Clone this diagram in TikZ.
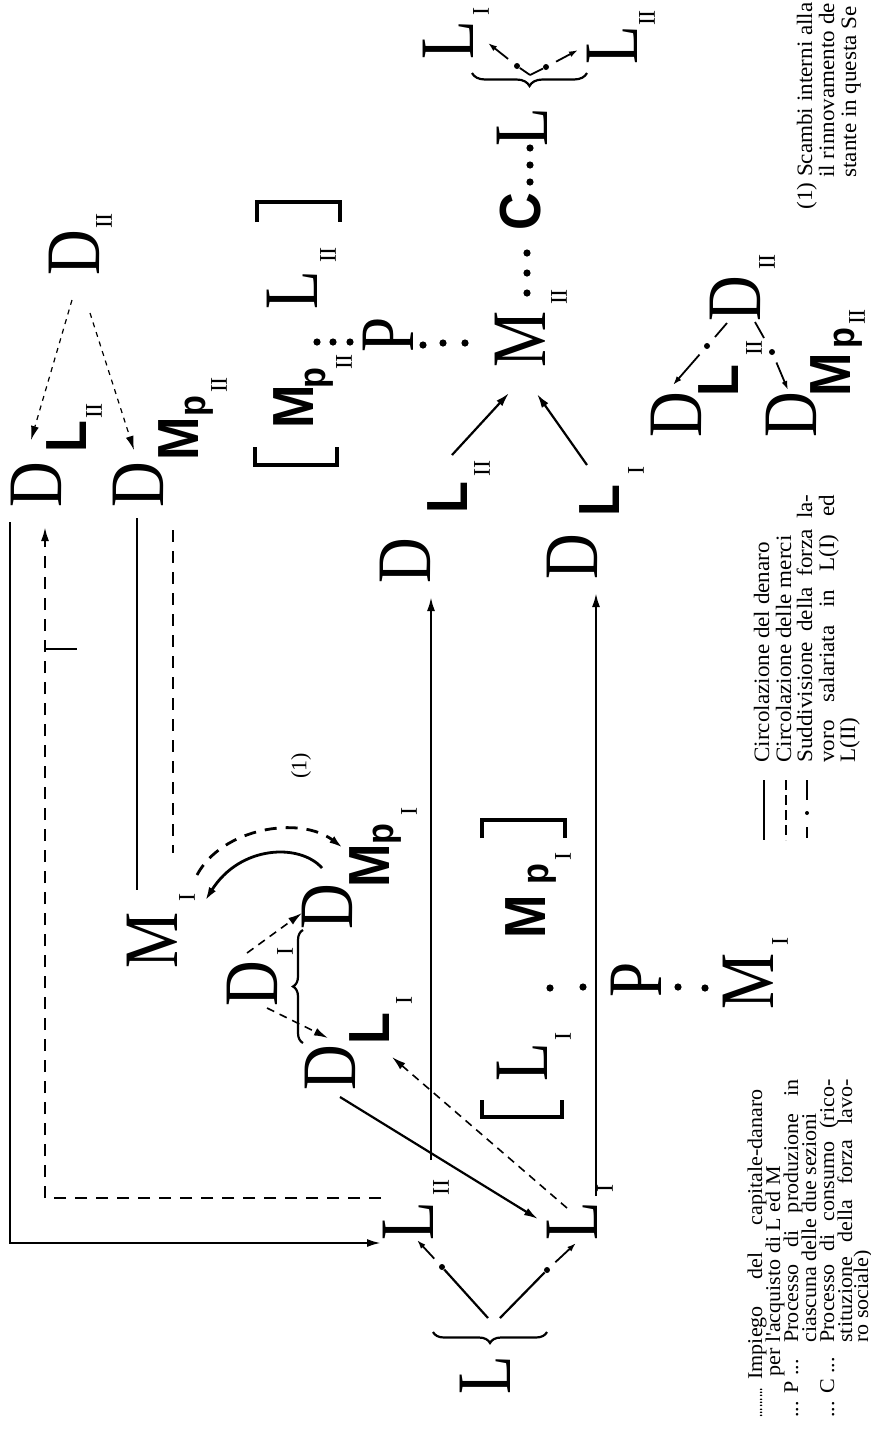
\documentclass[tikz,border=0pt]{standalone}
\usepackage{fontspec}
\setmainfont{Liberation Serif}
\newfontfamily\bigserif{Liberation Serif}[FakeStretch=0.82]
\newfontfamily\bigsans{Liberation Sans}[FakeStretch=0.9]
\newfontfamily\subserif{Liberation Serif}
\newfontfamily\legfont{Liberation Serif}[FakeStretch=1.05]
\usetikzlibrary{arrows.meta,decorations.pathreplacing}
\tikzset{
 big/.style={inner sep=0pt, rotate=90, font=\bigserif\fontsize{38.5}{40}\selectfont},
 bsf/.style={inner sep=0pt, rotate=90, font=\bigsans\bfseries\fontsize{29}{30}\selectfont},
 psub/.style={inner sep=0pt, rotate=90, font=\bigsans\bfseries\fontsize{19}{20}\selectfont},
 rsub/.style={inner sep=0pt, rotate=90, font=\subserif\fontsize{12}{13}\selectfont},
 paren/.style={inner sep=0pt, rotate=90, font=\subserif\fontsize{11}{12}\selectfont},
 legA/.style={inner sep=0pt, rotate=90, anchor=base west, font=\legfont\fontsize{10.5}{11}\selectfont},
 legB/.style={inner sep=0pt, rotate=90, anchor=base west, font=\legfont\fontsize{11}{12}\selectfont},
 tip/.style={-{Latex[length=7pt,width=4pt]}},
 smalltip/.style={-{Latex[length=4.5pt,width=3pt]}},
 money/.style={line width=1.1pt},
 goods/.style={line width=1.1pt, dash pattern=on 6pt off 4.5pt},
 thingoods/.style={line width=0.8pt, dash pattern=on 4pt off 3pt},
 fine/.style={line width=0.6pt, dash pattern=on 2.5pt off 2.5pt},
 bar/.style={line width=1.6pt},
 dotn/.style={circle, fill, inner sep=0pt, minimum size=3.6pt},
 sdot/.style={circle, fill, inner sep=0pt, minimum size=3pt},
 bracestyle/.style={decorate, line width=1.1pt},
}
\begin{document}
\begin{tikzpicture}[x=0.5pt,y=-0.5pt]
\useasboundingbox (0,0) rectangle (871,1436);
\begin{scope}
\clip (0,0) rectangle (871,1436);
% ---------------- nodes: left / top part
\node[big] (DIIa) at (74,253) {D};
\node[rsub] (DIIaS) at (104,221) {II};
\node[big] (DLa) at (36,485) {D};
\node[bsf] (DLaL) at (67,437) {L};
\node[rsub] (DLaS) at (94,411) {II};
\node[big] (DMa) at (138,485) {D};
\node[bsf] (DMaM) at (179,439) {M};
\node[psub] (DMap) at (199,406) {p};
\node[rsub] (DMaS) at (219,385) {II};
\node[big] (MIa) at (152,940) {M};
\node[rsub] (MIaS) at (187,897) {I};
\node[paren] (fn1) at (301,766) {(1)};
\node[big] (DI) at (252,984) {D};
\node[rsub] (DIS) at (285,951) {I};
\node[big] (DMb) at (327,907) {D};
\node[bsf] (DMbM) at (370,866) {M};
\node[psub] (DMbp) at (387,834) {p};
\node[rsub] (DMbS) at (409,811) {I};
\node[big] (DLb) at (330,1068) {D};
\node[bsf] (DLbL) at (370,1029) {L};
\node[rsub] (DLbS) at (404,1000) {I};
\node[big] (LIIa) at (408,1221) {L};
\node[rsub] (LIIaS) at (441,1187) {II};
\node[big] (LIa) at (572,1221) {L};
\node[rsub] (LIaS) at (605,1188) {I};
\node[big] (La) at (485,1375) {L};
% bracket row (section I)
\node[big] (LIb) at (522,1062) {L};
\node[rsub] (LIbS) at (563,1036) {I};
\node[bsf] (MpIbM) at (526,917) {M};
\node[psub] (MpIbp) at (542,874) {p};
\node[rsub] (MpIbS) at (563,856) {I};
\node[big] (Pa) at (636,980) {P};
\node[big] (MIb) at (748,981) {M};
\node[rsub] (MIbS) at (780,941) {I};
% middle D_L
\node[big] (DLc) at (405,561) {D};
\node[bsf] (DLcL) at (448,498) {L};
\node[rsub] (DLcS) at (482,468) {II};
\node[big] (DLd) at (572,557) {D};
\node[bsf] (DLdL) at (600,501) {L};
\node[rsub] (DLdS) at (636,470) {I};
% bracket row (section II)
\node[bsf] (MpIIM) at (294,407) {M};
\node[psub] (MpIIp) at (319,378) {p};
\node[rsub] (MpIIS) at (344,362) {II};
\node[big] (LIIb) at (292,290) {L};
\node[rsub] (LIIbS) at (328,255) {II};
\node[big] (Pb) at (388,335) {P};
\node[big] (MII) at (520,339) {M};
\node[rsub] (MIIS) at (559,297) {II};
\node[bsf] (C) at (521,212) {C};
\node[big] (Lb) at (522,127) {L};
\node[big] (LIc) at (448,40) {L};
\node[rsub] (LIcS) at (481,12) {I};
\node[big] (LIIc) at (612,45) {L};
\node[rsub] (LIIcS) at (647,18) {II};
% bottom right cluster
\node[big] (DIIb) at (735,299) {D};
\node[rsub] (DIIbS) at (767,262) {II};
\node[big] (DLe) at (676,415) {D};
\node[bsf] (DLeL) at (719,381) {L};
\node[rsub] (DLeS) at (754,348) {II};
\node[big] (DMc) at (791,415) {D};
\node[bsf] (DMcM) at (831,375) {M};
\node[psub] (DMcp) at (848,338) {p};
\node[rsub] (DMcS) at (857,317) {II};
% ---------------- dots
\node[dotn] (d1) at (550,988) {};
\node[dotn] (d2) at (583,987) {};
\node[dotn] (d3) at (678,987) {};
\node[dotn] (d4) at (705,988) {};
\node[dotn] (d5) at (317,342) {};
\node[dotn] (d6) at (333,342) {};
\node[dotn] (d7) at (350,342) {};
\node[dotn] (d8) at (423,345) {};
\node[dotn] (d9) at (443,343) {};
\node[dotn] (d10) at (465,343) {};
\node[dotn] (d11) at (527,293) {};
\node[dotn] (d12) at (527,273) {};
\node[dotn] (d13) at (527,253) {};
\node[dotn] (d14) at (530,182) {};
\node[dotn] (d15) at (530,165) {};
\node[dotn] (d16) at (530,148) {};
% ---------------- brackets
\draw[bar] (482,1100) -- (482,1117) -- (562,1117) -- (562,1100);
\draw[bar] (482,838) -- (482,820) -- (565,820) -- (565,838);
\draw[bar] (255,447) -- (255,465) -- (337,465) -- (337,447);
\draw[bar] (257,222) -- (257,202) -- (340,202) -- (340,222);
% ---------------- braces
\draw[bracestyle, decoration={brace, amplitude=5.5pt}] (547,1332) -- (433,1332);
\draw[bracestyle, decoration={brace, amplitude=6.5pt}] (587,73) -- (472,73);
\draw[bracestyle, decoration={brace, amplitude=5pt}] (303,1043) -- (303,930);
% ---------------- connectors
\coordinate (a1s) at (72,300);  \coordinate (a1e) at (31,440);
\coordinate (a2s) at (90,313);  \coordinate (a2e) at (134,450);
\draw[fine, tip] (a1s) -- (a1e);
\draw[fine, tip] (a2s) -- (a2e);
% money D_L_II -> L_II (outer frame)
\coordinate (a3s) at (10,522); \coordinate (a3e) at (381,1243);
\draw[money, tip] (a3s) |- (a3e);
% goods L_II -> D_L_II (dashed frame)
\coordinate (a4s) at (381,1198); \coordinate (a4e) at (45,527);
\draw[goods, tip] (a4s) -| (a4e);
\coordinate (t1) at (45,649); \coordinate (t2) at (77,649);
\draw[line width=0.8pt] (t1) -- (t2);
% D_Mp_II -- M_I
\coordinate (a6s) at (137,518); \coordinate (a6e) at (137,890);
\draw[money] (a6s) -- (a6e);
\coordinate (a7s) at (173,530); \coordinate (a7e) at (173,853);
\draw[goods] (a7s) -- (a7e);
% internal exchange arcs
\coordinate (a8s) at (322,868); \coordinate (a8e) at (205,901);
\draw[money, line width=1.4pt, tip] (a8s) .. controls (300,843) and (240,845) .. (a8e);
\coordinate (a9s) at (197,875); \coordinate (a9e) at (343,848);
\draw[goods, line width=1.4pt, tip] (a9s) .. controls (222,828) and (300,815) .. (a9e);
% D_I split
\coordinate (a10s) at (247,953); \coordinate (a10e) at (302,913);
\draw[thingoods, tip] (a10s) -- (a10e);
\coordinate (a11s) at (267,1008); \coordinate (a11e) at (328,1038);
\draw[thingoods, tip] (a11s) -- (a11e);
% D_L_I -> L_I (money) and L_I -> D_L_I (goods)
\coordinate (a12s) at (340,1097); \coordinate (a12e) at (538,1219);
\draw[money, tip] (a12s) -- (a12e);
\coordinate (a13s) at (567,1208); \coordinate (a13e) at (392,1057);
\draw[thingoods, tip] (a13s) -- (a13e);
% verticals to D
\coordinate (a14s) at (431,1160); \coordinate (a14e) at (431,597);
\draw[money, tip] (a14s) -- (a14e);
\coordinate (a15s) at (596,1196); \coordinate (a15e) at (596,593);
\draw[money, tip] (a15s) -- (a15e);
% to M_II
\coordinate (a16s) at (452,455); \coordinate (a16e) at (509,393);
\draw[money, tip] (a16s) -- (a16e);
\coordinate (a17s) at (587,465); \coordinate (a17e) at (537,394);
\draw[money, tip] (a17s) -- (a17e);
% bottom L { L_II, L_I
\node[sdot] (b1) at (442,1267) {};
\node[sdot] (b2) at (547,1270) {};
\coordinate (b0a) at (488,1318); \coordinate (b0b) at (500,1318);
\draw[line width=1.1pt] (b0a) -- (b1);
\draw[line width=1.1pt] (b0b) -- (b2);
\coordinate (b1e) at (417,1240); \coordinate (b2e) at (576,1243);
\draw[line width=0.9pt, smalltip, shorten <=4pt] (b1) -- (b1e);
\draw[line width=0.9pt, smalltip, shorten <=4pt] (b2) -- (b2e);
% top L { L_I, L_II
\node[sdot] (c1) at (517,66) {};
\node[sdot] (c2) at (546,67) {};
\coordinate (c0) at (530,75);
\draw[line width=0.9pt] (c0) -- (c1);
\draw[line width=0.9pt] (c0) -- (c2);
\coordinate (c1e) at (488,43); \coordinate (c2e) at (578,50);
\draw[line width=0.9pt, smalltip, shorten <=4pt] (c1) -- (c1e);
\draw[line width=0.9pt, smalltip, shorten <=4pt] (c2) -- (c2e);
% bottom-right D_II split
\coordinate (e1s) at (727,323); \coordinate (e1m) at (715,337);
\node[sdot] (e1) at (707,346) {};
\coordinate (e1e) at (673,385);
\draw[line width=0.9pt] (e1s) -- (e1m);
\draw[line width=0.9pt, smalltip, shorten <=4pt] (e1) -- (e1e);
\coordinate (e2s) at (755,322); \coordinate (e2m) at (764,338);
\node[sdot] (e2) at (772,352) {};
\coordinate (e2e) at (788,390);
\draw[line width=0.9pt] (e2s) -- (e2m);
\draw[line width=0.9pt, smalltip, shorten <=4pt] (e2) -- (e2e);
% ---------------- legend 2 (symbols)
\coordinate (s1a) at (764,780); \coordinate (s1b) at (764,840);
\draw[line width=0.9pt] (s1a) -- (s1b);
\coordinate (s2a) at (786,780); \coordinate (s2b) at (786,840);
\draw[line width=0.9pt, dash pattern=on 5pt off 2.5pt] (s2a) -- (s2b);
\coordinate (s3a) at (807,780); \coordinate (s3b) at (807,800);
\coordinate (s3c) at (807,827); \coordinate (s3d) at (807,838);
\draw[line width=0.9pt] (s3a) -- (s3b);
\node[sdot, minimum size=2pt] (s3dot) at (807,813) {};
\draw[line width=0.9pt] (s3c) -- (s3d);
\node[legB] (g1) at (769,763) {Circolazione del denaro};
\node[legB] (g2) at (791,763) {Circolazione delle merci};
\node[legB] (g3) at (812,763) {\makebox[134pt][s]{Suddivisione della forza la-}};
\node[legB] (g4) at (834,763) {\makebox[134pt][s]{voro salariata in L(I) ed}};
\node[legB] (g5) at (855,763) {L(II)};
% ---------------- legend 1
\node[legA] (h0) at (762,1418) {\scalebox{0.6}[1]{.........}};
\node[legA] (h1) at (762,1380) {\makebox[145pt][s]{Impiego del capitale-danaro}};
\node[legA] (h2) at (780,1377) {per l'acquisto di L ed M};
\node[legA] (h3a) at (798,1418) {... P ...};
\node[legA] (h3) at (798,1343) {\makebox[131.5pt][s]{Processo di produzione in}};
\node[legA] (h4) at (816,1343) {ciascuna delle due sezioni};
\node[legA] (h5a) at (834,1418) {... C ...};
\node[legA] (h5) at (834,1343) {\makebox[131.5pt][s]{Processo di consumo (rico-}};
\node[legA] (h6) at (852,1343) {\makebox[131.5pt][s]{stituzione della forza lavo-}};
\node[legA] (h7) at (868,1343) {ro sociale)};
% ---------------- footnote (1)
\node[legB] (f1) at (812,210) {(1) Scambi interni alla};
\node[legB] (f2) at (834,178) {il rinnovamento de};
\node[legB] (f3) at (856,178) {stante in questa Se};
\end{scope}
\end{tikzpicture}
\end{document}
